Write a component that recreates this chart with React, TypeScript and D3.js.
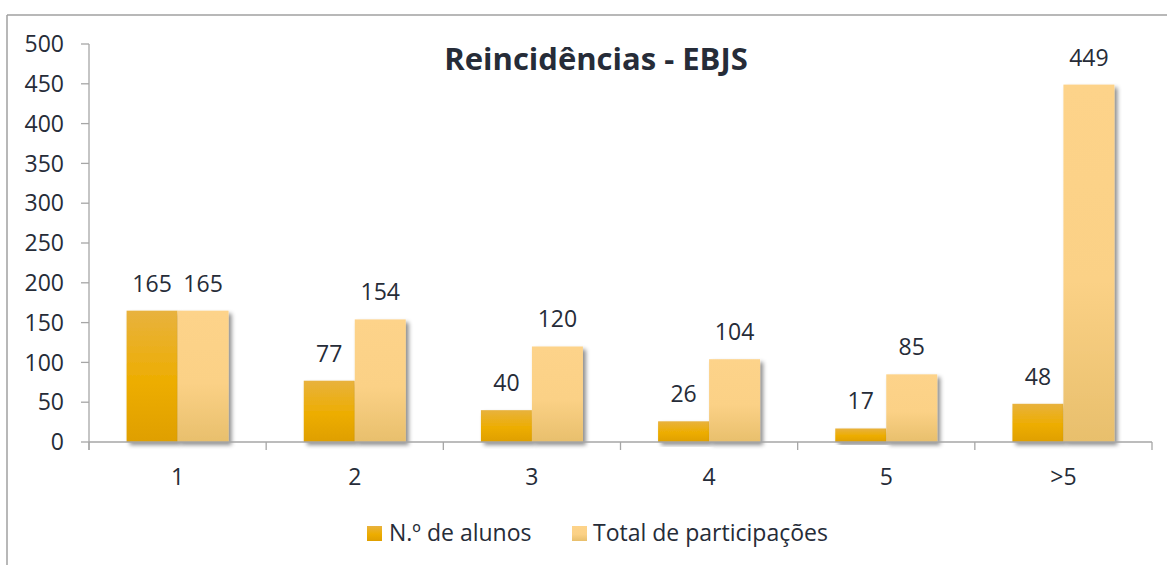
import React from "react";
import * as d3 from "d3";

const categories = ["1", "2", "3", "4", "5", ">5"];
const seriesNames = ["N.º de alunos", "Total de participações"];
const alunos = [165, 77, 40, 26, 17, 48];
const participacoes = [165, 154, 120, 104, 85, 449];
const yTicks = [0, 50, 100, 150, 200, 250, 300, 350, 400, 450, 500];
const title = "Reincidências - EBJS";

const W = 1167;
const H = 565;
const FONT = "'Open Sans', sans-serif";
const TEXT = "#262c38";
const AXIS = "#a6a6a6";
const FS = 23;

export default function App() {
  const y = d3.scaleLinear().domain([0, 500]).range([442, 44]);
  const x = d3.scaleBand<string>().domain(categories).range([89, 1152]).padding(0);
  const x1 = d3
    .scaleBand<string>()
    .domain(seriesNames)
    .range([0, x.bandwidth()])
    .paddingInner(0)
    .paddingOuter(0.737);
  const values = [alunos, participacoes];
  const fills = ["url(#gA)", "url(#gB)"];
  const bounds = [...categories.map((c) => x(c)!), 1152];

  return (
    <svg
      width={W}
      height={H}
      style={{ position: "absolute", left: 0, top: 0, background: "#fff" }}
      fontFamily={FONT}
    >
      <defs>
        <linearGradient id="gA" x1="0" y1="0" x2="0" y2="1">
          <stop offset="0" stopColor="#e8b23e" />
          <stop offset="0.55" stopColor="#edad00" />
          <stop offset="1" stopColor="#df9f00" />
        </linearGradient>
        <linearGradient id="gB" x1="0" y1="0" x2="0" y2="1">
          <stop offset="0" stopColor="#fdd38a" />
          <stop offset="0.55" stopColor="#fbd186" />
          <stop offset="1" stopColor="#e8bf6c" />
        </linearGradient>
        <filter id="sh" x="-20%" y="-10%" width="150%" height="130%">
          <feDropShadow dx="3" dy="3" stdDeviation="2" floodColor="#000" floodOpacity="0.45" />
        </filter>
      </defs>
      <rect x={0} y={0} width={W} height={H} fill="#fff" />
      {/* frame */}
      <line x1={7} y1={15} x2={W} y2={15} stroke="#a0a0a0" strokeWidth={1.5} />
      <line x1={7} y1={15} x2={7} y2={H} stroke="#a0a0a0" strokeWidth={1.5} />

      {/* title */}
      <text x={596} y={70} textAnchor="middle" fontSize={31} fontWeight="bold" fill={TEXT}>
        {title}
      </text>

      {/* y axis */}
      <line x1={89} y1={y(500)} x2={89} y2={450} stroke={AXIS} strokeWidth={1.3} />
      {yTicks.map((t) => (
        <g key={t}>
          <line x1={81} x2={89} y1={y(t)} y2={y(t)} stroke={AXIS} strokeWidth={1.3} />
          <text x={64} y={y(t)} dy="0.36em" textAnchor="end" fontSize={FS} fill={TEXT}>
            {t}
          </text>
        </g>
      ))}

      {/* bars */}
      {seriesNames.map((s, si) =>
        categories.map((c, ci) => {
          const v = values[si][ci];
          const bx = x(c)! + x1(s)!;
          return (
            <rect
              key={s + c}
              x={bx}
              y={y(v)}
              width={x1.bandwidth()}
              height={y(0) - y(v)}
              fill={fills[si]}
              filter="url(#sh)"
            />
          );
        })
      )}

      {/* x axis */}
      <line x1={89} x2={1152} y1={y(0)} y2={y(0)} stroke={AXIS} strokeWidth={1.3} />
      {bounds.map((b, i) => (
        <line key={i} x1={b} x2={b} y1={y(0)} y2={450} stroke={AXIS} strokeWidth={1.3} />
      ))}
      {categories.map((c) => (
        <text
          key={c}
          x={x(c)! + x.bandwidth() / 2}
          y={485}
          textAnchor="middle"
          fontSize={FS}
          fill={TEXT}
        >
          {c}
        </text>
      ))}

      {/* value labels */}
      {seriesNames.map((s, si) =>
        categories.map((c, ci) => {
          const v = values[si][ci];
          const bx = x(c)! + x1(s)! + x1.bandwidth() / 2;
          return (
            <text
              key={"l" + s + c}
              x={bx}
              y={y(v) - 19}
              textAnchor="middle"
              fontSize={FS}
              fill={TEXT}
            >
              {v}
            </text>
          );
        })
      )}

      {/* legend */}
      <rect x={367} y={526} width={15} height={15} fill="url(#gA)" />
      <text x={389} y={541} fontSize={FS} fill={TEXT}>
        {seriesNames[0]}
      </text>
      <rect x={572} y={526} width={15} height={15} fill="url(#gB)" />
      <text x={593} y={541} fontSize={FS} fill={TEXT}>
        {seriesNames[1]}
      </text>
    </svg>
  );
}
